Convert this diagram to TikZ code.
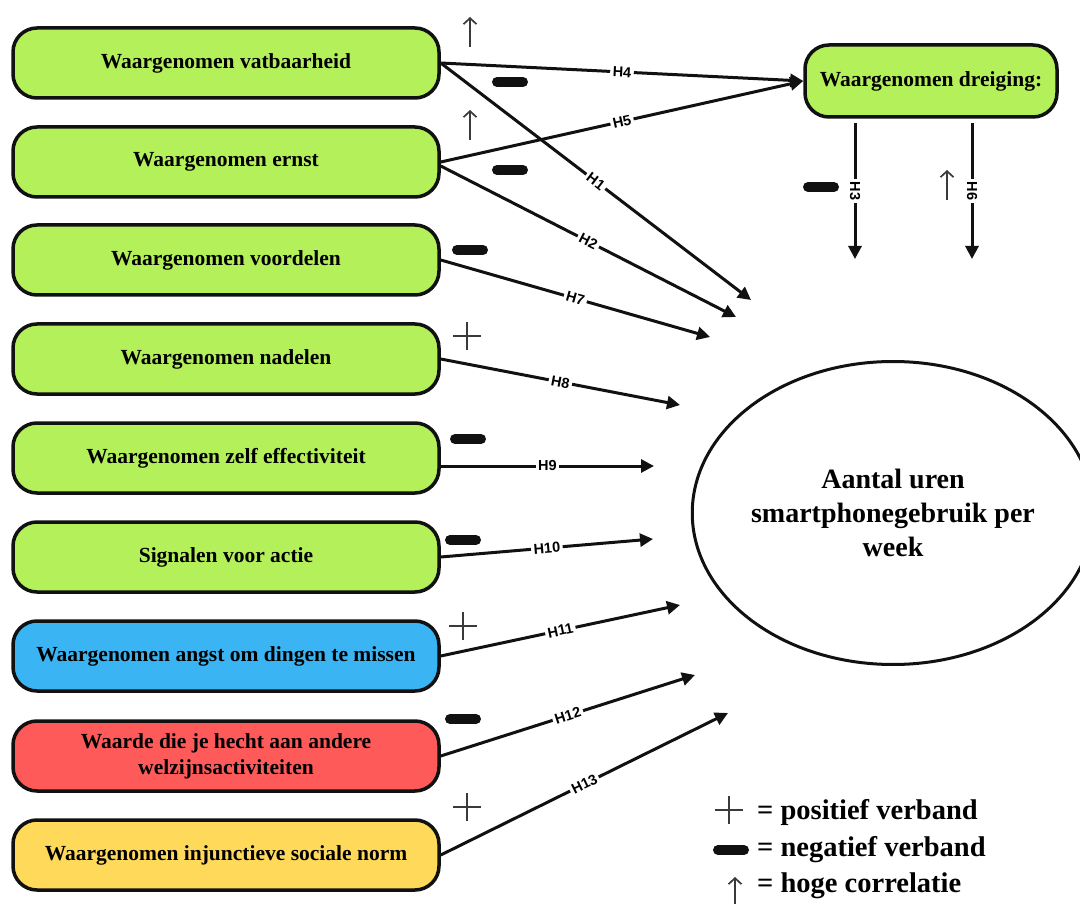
\documentclass[tikz,border=0pt]{standalone}
\usepackage{fontspec}
\setmainfont{Liberation Serif}
\setsansfont{Liberation Sans}
\usetikzlibrary{arrows.meta,shapes.geometric}
\definecolor{bgreen}{HTML}{B4F05A}
\definecolor{bblue}{HTML}{3AB4F2}
\definecolor{bred}{HTML}{FF5A5A}
\definecolor{byellow}{HTML}{FFD95A}
\definecolor{outl}{HTML}{111111}
\definecolor{markgray}{HTML}{3A3A3A}
\begin{document}
\begin{tikzpicture}[x=1pt,y=-1pt,
  box/.style={draw=outl,line width=3.5pt,rounded corners=24pt,minimum width=426pt,minimum height=70pt,inner sep=0pt,align=center,font=\fontsize{21.5}{26}\selectfont\bfseries},
  conn/.style={line width=3pt,draw=outl,-{Triangle[length=13pt,width=13pt]}},
  lab/.style={fill=white,inner sep=2.5pt,font=\sffamily\bfseries\fontsize{14.5}{14.5}\selectfont},
  minusmark/.pic={\draw[line width=10pt,line cap=round,draw=outl] (-13,0)--(13,0);},
  plusmark/.pic={\draw[line width=2pt,draw=markgray] (-14,0)--(14,0) (0,-14)--(0,14);},
  upmark/.pic={\draw[line width=1.7pt,draw=markgray,-{Straight Barb[length=6pt,width=13pt]}] (0,15)--(0,-15);},
  legtext/.style={anchor=west,inner sep=0pt,font=\fontsize{28.5}{30}\selectfont\bfseries}
]
\fill[white] (0,0) rectangle (1080,904);
\useasboundingbox (0,0) rectangle (1080,904);

% left boxes
\node[box,fill=bgreen] (b1) at (226,63) {Waargenomen vatbaarheid};
\node[box,fill=bgreen] (b2) at (226,162) {Waargenomen ernst};
\node[box,fill=bgreen] (b3) at (226,260) {Waargenomen voordelen};
\node[box,fill=bgreen] (b4) at (226,359) {Waargenomen nadelen};
\node[box,fill=bgreen] (b5) at (226,458) {Waargenomen zelf effectiviteit};
\node[box,fill=bgreen] (b6) at (226,557) {Signalen voor actie};
\node[box,fill=bblue] (b7) at (226,656) {Waargenomen angst om dingen te missen};
\node[box,fill=bred] (b8) at (226,756) {Waarde die je hecht aan andere\\welzijnsactiviteiten};
\node[box,fill=byellow] (b9) at (226,855) {Waargenomen injunctieve sociale norm};

% threat box
\node[box,fill=bgreen,minimum width=252pt,minimum height=72pt] (dr) at (931,81) {Waargenomen dreiging:};

% outcome ellipse
\node[draw=outl,line width=3pt,ellipse,minimum width=400pt,minimum height=303pt,inner sep=0pt,align=center,font=\fontsize{28}{34}\selectfont\bfseries] (out) at (893,513) {Aantal uren\\smartphonegebruik per\\week};

% free arrow ends
\coordinate (e1) at (751,300);
\coordinate (e2) at (736,317);
\coordinate (e7) at (710,337);
\coordinate (e8) at (680,405);
\coordinate (e9) at (654,466);
\coordinate (e10) at (653,539);
\coordinate (e11) at (680,605);
\coordinate (e12) at (695,675);
\coordinate (e13) at (728,713);
\coordinate (h3s) at (855,123);
\coordinate (h3e) at (855,259);
\coordinate (h6s) at (972,123);
\coordinate (h6e) at (972,259);

% connectors
\draw[conn] (b1.east) -- node[lab,sloped] {H4} (dr.west);
\draw[conn] (b2.east) -- node[lab,sloped] {H5} (dr.west);
\draw[conn] (b1.east) -- node[lab,sloped] {H1} (e1);
\draw[conn] ([yshift=-4pt]b2.east) -- node[lab,sloped] {H2} (e2);
\draw[conn] (b3.east) -- node[lab,sloped] {H7} (e7);
\draw[conn] (b4.east) -- node[lab,sloped] {H8} (e8);
\draw[conn] ([yshift=-8pt]b5.east) -- node[lab] {H9} (e9);
\draw[conn] (b6.east) -- node[lab,sloped] {H10} (e10);
\draw[conn] (b7.east) -- node[lab,sloped] {H11} (e11);
\draw[conn] (b8.east) -- node[lab,sloped] {H12} (e12);
\draw[conn] (b9.east) -- node[lab,sloped] {H13} (e13);
\draw[conn] (h3s) -- node[lab,rotate=-90] {H3} (h3e);
\draw[conn] (h6s) -- node[lab,rotate=-90] {H6} (h6e);

% relation marks
\pic at (470,32) {upmark};
\pic at (510,82) {minusmark};
\pic at (470,125) {upmark};
\pic at (510,170) {minusmark};
\pic at (470,250) {minusmark};
\pic at (467,336) {plusmark};
\pic at (468,439) {minusmark};
\pic at (463,540) {minusmark};
\pic at (463,626) {plusmark};
\pic at (463,719) {minusmark};
\pic at (467,807) {plusmark};
\pic at (821,187) {minusmark};
\pic at (947,185) {upmark};

% legend
\pic at (729,810) {plusmark};
\pic at (731,850) {minusmark};
\pic at (735,892) {upmark};
\node[legtext] (l1) at (757,812) {= positief verband};
\node[legtext] (l2) at (757,850) {= negatief verband};
\node[legtext] (l3) at (757,886) {= hoge correlatie};
\end{tikzpicture}
\end{document}
